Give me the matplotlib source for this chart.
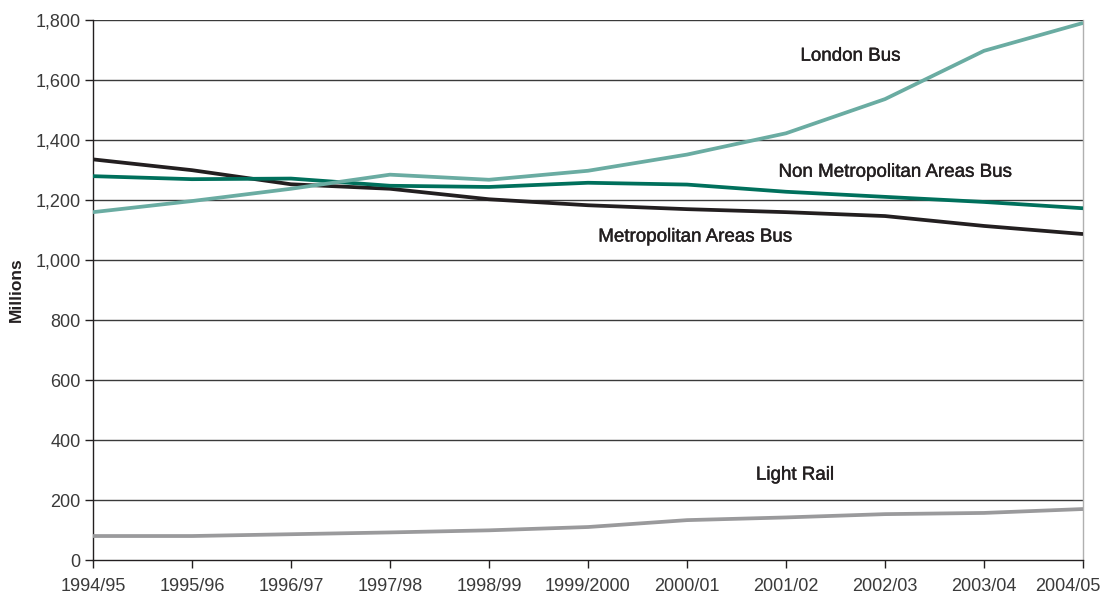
import numpy as np
from matplotlib import pyplot as plt
from matplotlib import patheffects as pe
from matplotlib.ticker import FuncFormatter
from matplotlib.transforms import ScaledTranslation

plt.rcParams['font.family'] = ['Liberation Sans', 'DejaVu Sans']

years = ['1994/95', '1995/96', '1996/97', '1997/98', '1998/99', '1999/2000',
         '2000/01', '2001/02', '2002/03', '2003/04', '2004/05']

london_bus = [1160, 1197, 1238, 1285, 1268, 1298, 1352, 1423, 1537, 1698, 1791]
non_metro_bus = [1280, 1270, 1272, 1248, 1244, 1258, 1252, 1228, 1211, 1194, 1173]
metro_bus = [1336, 1300, 1253, 1238, 1203, 1183, 1170, 1160, 1147, 1114, 1087]
light_rail = [80, 80, 86, 92, 99, 110, 133, 142, 153, 157, 170]

x = np.arange(len(years))

fig = plt.figure(figsize=(11.04, 5.95), dpi=100)
ax = fig.add_axes([0.0842, 0.0588, 0.8968, 0.9072])

for yv in range(200, 1801, 200):
    ax.axhline(yv, color='#3a3a3a', lw=1.0, zorder=1)

lw = 2.7
ax.plot(x, light_rail, color='#9a9a9c', lw=lw, zorder=3, solid_capstyle='butt')
ax.plot(x, metro_bus, color='#231f20', lw=lw, zorder=3, solid_capstyle='butt')
ax.plot(x, non_metro_bus, color='#00705c', lw=lw, zorder=4, solid_capstyle='butt')
ax.plot(x, london_bus, color='#6aaca2', lw=lw, zorder=5, solid_capstyle='butt')

# series names written on the plot, slightly heavier than the tick labels
lab = dict(fontsize=13.5, color='#231f20', ha='center', va='center',
           path_effects=[pe.withStroke(linewidth=0.3, foreground='#231f20')])
ax.text(7.65, 1680, 'London Bus', **lab)
ax.text(8.1, 1293, 'Non Metropolitan Areas Bus', **lab)
ax.text(6.08, 1077, 'Metropolitan Areas Bus', **lab)
ax.text(7.09, 283, 'Light Rail', **lab)

ax.set_xlim(0, len(years) - 1)
ax.set_ylim(0, 1800)
ax.set_xticks(x)
ax.set_xticklabels(years)
ax.set_yticks(range(0, 1801, 200))
ax.yaxis.set_major_formatter(FuncFormatter(lambda v, p: f'{int(v):,}'))
ax.tick_params(axis='both', labelsize=13, labelcolor='#3a3a3a', color='#231f20',
               direction='out', length=6, width=1)
ax.tick_params(axis='x', pad=7)
ax.tick_params(axis='y', pad=3)

# keep the last year label inside the figure
last = ax.get_xticklabels()[-1]
last.set_horizontalalignment('right')
last.set_transform(last.get_transform() + ScaledTranslation(0.17, 0, fig.dpi_scale_trans))

ax.spines['top'].set_visible(False)
ax.spines['right'].set_color('#b0b0b0')
ax.spines['left'].set_color('#231f20')
ax.spines['bottom'].set_color('#231f20')
for s in ['left', 'bottom', 'right']:
    ax.spines[s].set_linewidth(1.0)

ax.set_ylabel('Millions', fontsize=12.5, fontweight='bold', color='#231f20', labelpad=8)

fig.savefig('out.png', dpi=100)
